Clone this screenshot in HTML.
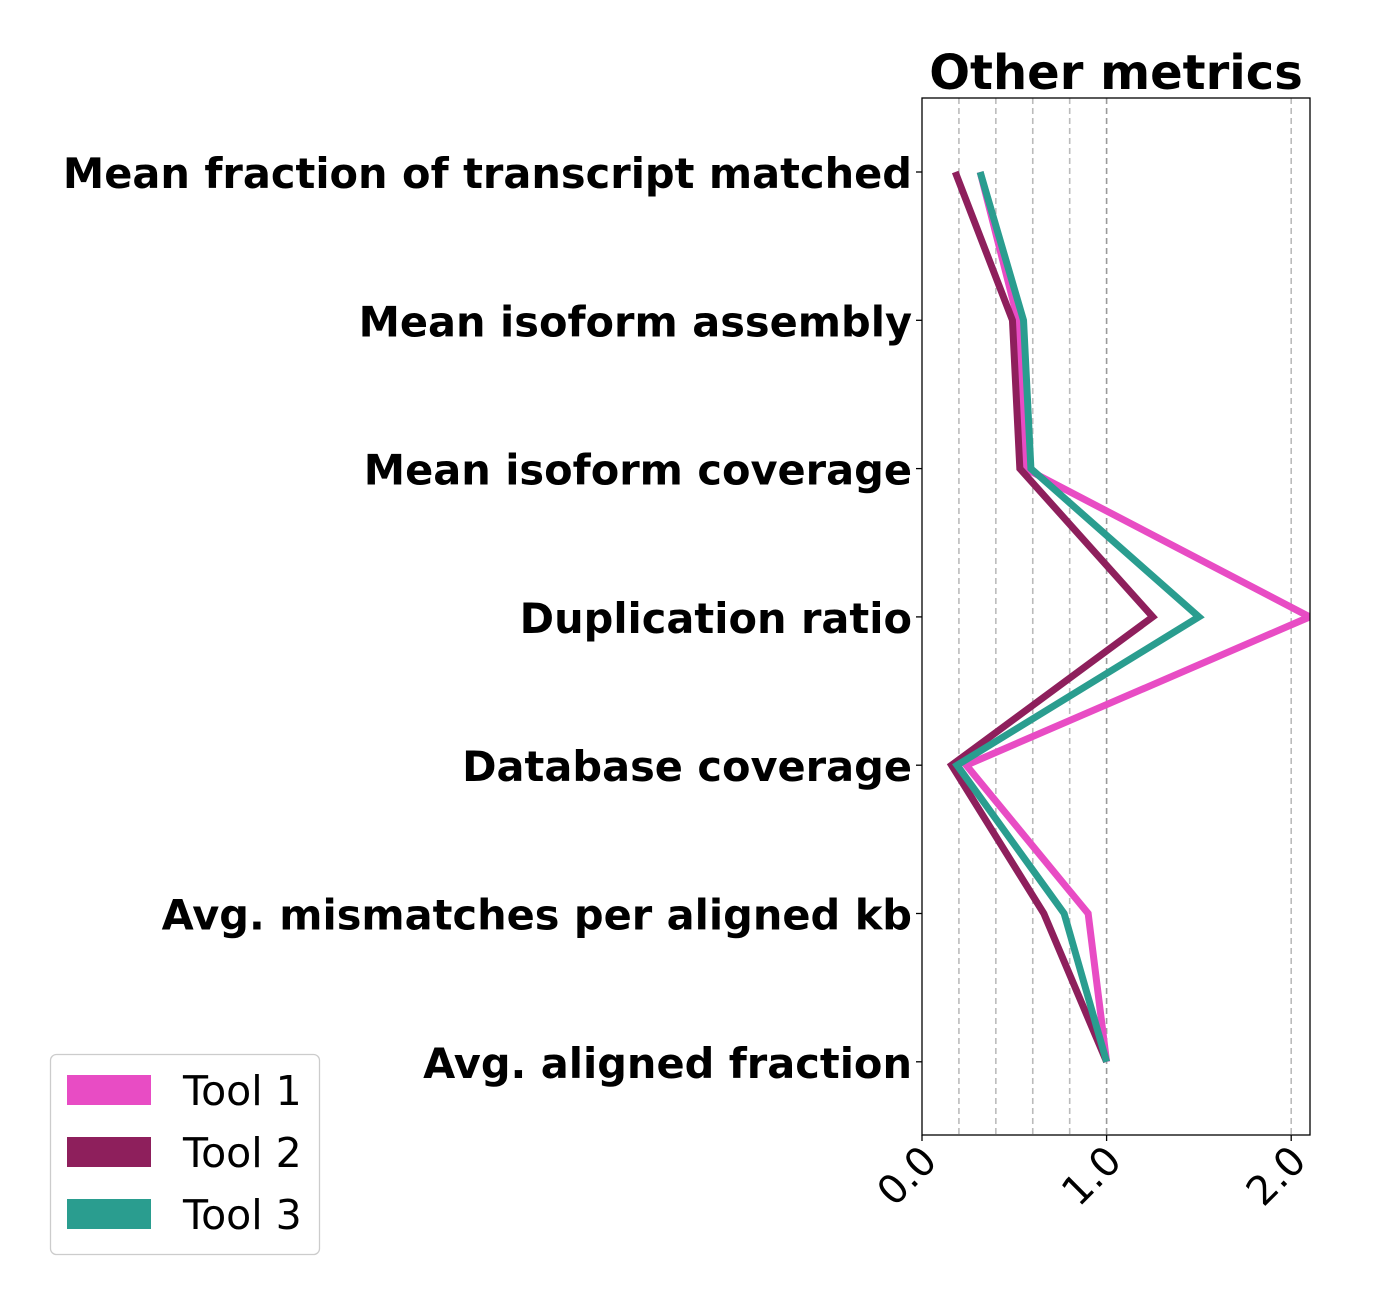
<!DOCTYPE html>
<html><head><meta charset="utf-8"><style>
body{margin:0;background:#fff;}
svg text{font-family:"DejaVu Sans","Liberation Sans",sans-serif;}
</style></head><body>
<svg width="1379" height="1305" xmlns="http://www.w3.org/2000/svg">
<defs><clipPath id="pc"><rect x="922" y="98" width="388" height="1037"/></clipPath></defs>
<g id="grid"></g>
<g id="lines" clip-path="url(#pc)"></g>
<rect x="922" y="98" width="388" height="1037" fill="none" stroke="#000" stroke-width="1.3"/>
<g id="yl"></g>
<g id="xl"></g>
<text x="1116" y="89" font-size="48" font-weight="bold" text-anchor="middle">Other metrics</text>
<g>
<rect x="50.5" y="1054.5" width="269" height="200" rx="6" fill="#fff" stroke="#ccc" stroke-width="1.3"/>
<g id="leg"></g>
</g>
</svg>
<script>
const categories=["Mean fraction of transcript matched","Mean isoform assembly","Mean isoform coverage","Duplication ratio","Database coverage","Avg. mismatches per aligned kb","Avg. aligned fraction"];
const seriesNames=["Tool 1","Tool 2","Tool 3"];
const tool1=[0.315,0.52,0.56,2.1,0.24,0.9,1.0];
const tool2=[0.18,0.49,0.53,1.25,0.16,0.66,1.0];
const tool3=[0.315,0.55,0.59,1.5,0.19,0.77,1.0];
const gridValues=[0.2,0.4,0.6,0.8,1.0,2.0];
const xTicks=[0,1,2];
const xTickLabels=["0.0","1.0","2.0"];
const colors=["#e84cc4","#8e1f5c","#2a9d8f"];
const NS="http://www.w3.org/2000/svg";
const x=v=>922+v*184.6;
const y=i=>172+i*148.3;
function mk(t,a,p){const e=document.createElementNS(NS,t);for(const k in a)e.setAttribute(k,a[k]);p.appendChild(e);return e;}
const grid=document.getElementById('grid');
gridValues.forEach(g=>{const l=mk('line',{x1:x(g),x2:x(g),y1:98,y2:1135,stroke:g===1?'#999':'#bbb','stroke-width':1.6,'stroke-dasharray':'6,4'},grid);

});
const lines=document.getElementById('lines');
[tool1,tool2,tool3].forEach((s,k)=>{const p=mk('polyline',{points:s.map((v,i)=>x(v)+','+y(i)).join(' '),fill:'none',stroke:colors[k],'stroke-width':7,'stroke-linejoin':'miter'},lines);

});
const yl=document.getElementById('yl');
categories.forEach((c,i)=>{const t=mk('text',{x:912,y:y(i)+16,'font-size':41.5,'font-weight':'bold','text-anchor':'end'},yl);t.textContent=c;


const tk=mk('line',{x1:916,x2:922,y1:y(i),y2:y(i),stroke:'#000','stroke-width':1.3},yl);

});
const xl=document.getElementById('xl');
xTicks.forEach((v,i)=>{const tk=mk('line',{x1:x(v),x2:x(v),y1:1135,y2:1141,stroke:'#000','stroke-width':1.3},xl);


const t=mk('text',{x:x(v)+17,y:1163,'font-size':40,'text-anchor':'end',transform:`rotate(-45 ${x(v)+17} 1163)`},xl);t.textContent=xTickLabels[i];

});
const leg=document.getElementById('leg');
seriesNames.forEach((n,i)=>{const r=mk('rect',{x:67,y:1075+i*62,width:84,height:30,fill:colors[i]},leg);


const t=mk('text',{x:183,y:1105+i*62,'font-size':41},leg);t.textContent=n;

});
</script>
</body></html>
